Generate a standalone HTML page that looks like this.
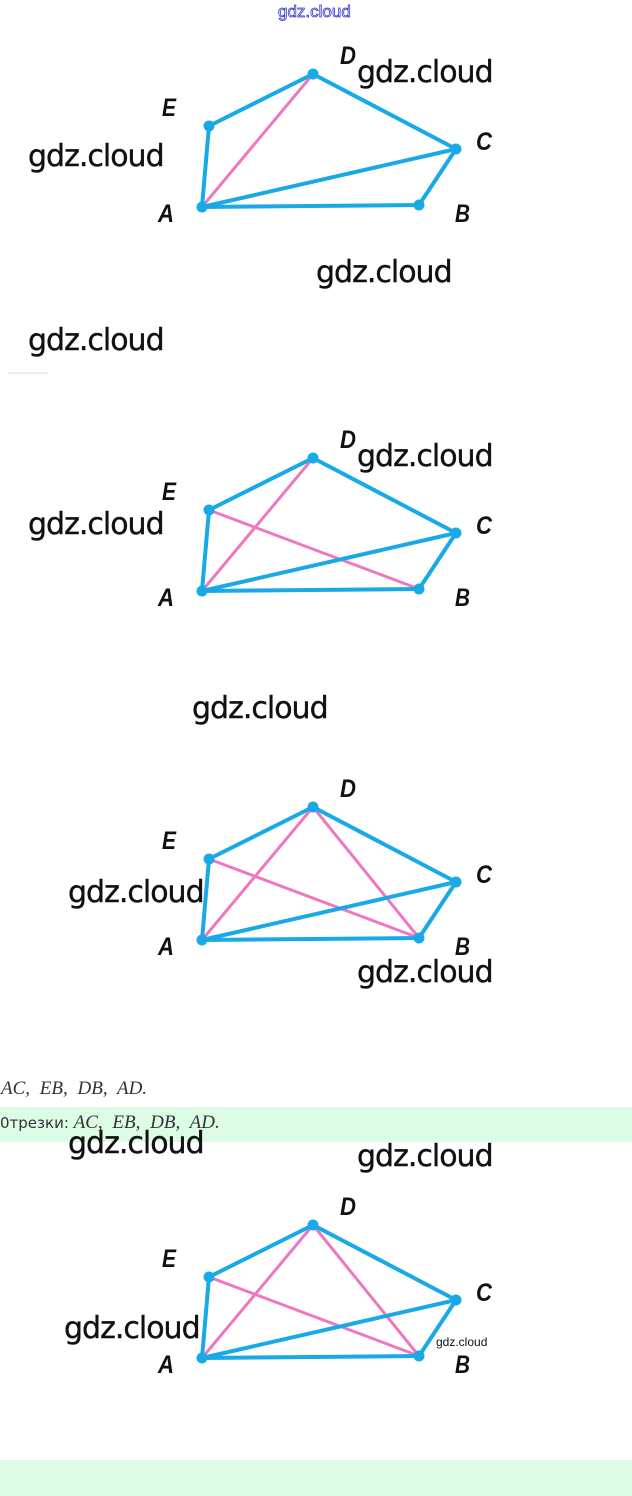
<!DOCTYPE html>
<html><head><meta charset="utf-8"><style>
body{margin:0;width:632px;height:1496px;position:relative;background:#fff;overflow:hidden;font-family:"Liberation Sans",sans-serif}
.w{position:absolute;font-family:"DejaVu Sans","Liberation Sans",sans-serif;font-size:30px;color:#111;line-height:1;letter-spacing:-1px;font-weight:500;-webkit-text-stroke:0.4px #111}
.g{position:absolute;left:0;width:632px;background:#dcfce6}
.m{font-family:"Liberation Serif",serif;font-style:italic;font-size:19px;color:#333;word-spacing:5px}
</style></head><body>
<div class="g" style="top:1107px;height:35px"></div>
<div class="g" style="top:1460px;height:36px"></div>
<svg width="632" height="1496" style="position:absolute;left:0;top:0">
<defs>
<g id="base" stroke="#19a9e6" stroke-width="4" fill="none" stroke-linejoin="round">
<polyline points="202,207 209,126 313,74 456,149 419,205 202,207"/>
<line x1="202" y1="207" x2="456" y2="149"/>
</g>
<g id="pts" fill="#19a9e6">
<circle cx="202" cy="207" r="5.5"/><circle cx="209" cy="126" r="5.5"/><circle cx="313" cy="74" r="5.5"/><circle cx="456" cy="149" r="5.5"/><circle cx="419" cy="205" r="5.5"/>
</g>
<g id="lbl" font-family="Liberation Sans,sans-serif" font-style="italic" font-weight="bold" font-size="25" fill="#111">
<text x="340" y="64" textLength="16" lengthAdjust="spacingAndGlyphs">D</text><text x="162" y="116" textLength="14" lengthAdjust="spacingAndGlyphs">E</text><text x="476" y="150" textLength="16" lengthAdjust="spacingAndGlyphs">C</text><text x="158" y="222" textLength="16" lengthAdjust="spacingAndGlyphs">A</text><text x="455" y="222" textLength="15" lengthAdjust="spacingAndGlyphs">B</text>
</g>
</defs>
<g><line x1="202" y1="207" x2="313" y2="74" stroke="#ee77c0" stroke-width="3"/><use href="#base"/><use href="#pts"/><use href="#lbl"/></g>
<g transform="translate(0,384)"><line x1="202" y1="207" x2="313" y2="74" stroke="#ee77c0" stroke-width="3"/><line x1="209" y1="126" x2="419" y2="205" stroke="#ee77c0" stroke-width="3"/><use href="#base"/><use href="#pts"/><use href="#lbl"/></g>
<g transform="translate(0,733)"><line x1="202" y1="207" x2="313" y2="74" stroke="#ee77c0" stroke-width="3"/><line x1="209" y1="126" x2="419" y2="205" stroke="#ee77c0" stroke-width="3"/><line x1="313" y1="74" x2="419" y2="205" stroke="#ee77c0" stroke-width="3"/><use href="#base"/><use href="#pts"/><use href="#lbl"/></g>
<g transform="translate(0,1151)"><line x1="202" y1="207" x2="313" y2="74" stroke="#ee77c0" stroke-width="3"/><line x1="209" y1="126" x2="419" y2="205" stroke="#ee77c0" stroke-width="3"/><line x1="313" y1="74" x2="419" y2="205" stroke="#ee77c0" stroke-width="3"/><use href="#base"/><use href="#pts"/><use href="#lbl"/></g>
<text x="278" y="17" font-family="Liberation Sans,sans-serif" font-size="17" fill="none" stroke="#3333cc" stroke-width="0.8">gdz.cloud</text>
<rect x="8" y="372" width="40" height="2" fill="#eee"/>
</svg>
<div class="w" style="left:357px;top:58px">gdz.cloud</div>
<div class="w" style="left:28px;top:142px">gdz.cloud</div>
<div class="w" style="left:316px;top:258px">gdz.cloud</div>
<div class="w" style="left:28px;top:326px">gdz.cloud</div>
<div class="w" style="left:357px;top:442px">gdz.cloud</div>
<div class="w" style="left:28px;top:510px">gdz.cloud</div>
<div class="w" style="left:192px;top:694px">gdz.cloud</div>
<div class="w" style="left:68px;top:878px">gdz.cloud</div>
<div class="w" style="left:357px;top:958px">gdz.cloud</div>
<div class="m" style="position:absolute;left:1px;top:1078px">AC, EB, DB, AD.</div>
<div style="position:absolute;left:0;top:1112px;font-size:15px;color:#333;font-family:'DejaVu Sans',sans-serif">0трезки: <span class="m">AC, EB, DB, AD.</span></div>
<div class="w" style="left:68px;top:1129px">gdz.cloud</div>
<div class="w" style="left:357px;top:1142px">gdz.cloud</div>
<div class="w" style="left:64px;top:1314px">gdz.cloud</div>
<div style="position:absolute;left:436px;top:1335px;font-size:12px;color:#111">gdz.cloud</div>
</body></html>
